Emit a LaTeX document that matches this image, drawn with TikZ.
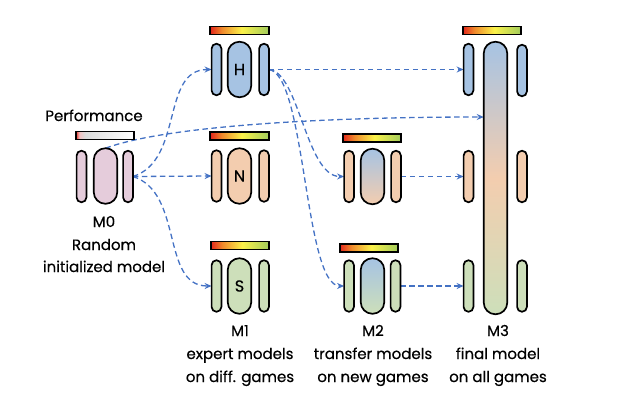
\documentclass[tikz,border=0pt]{standalone}
\usepackage{fontspec}
\setmainfont{Poppins}[FakeBold=0.5]
\usetikzlibrary{arrows.meta}
\definecolor{pblue}{HTML}{A6C3E3}
\definecolor{porange}{HTML}{F3CDAF}
\definecolor{pgreen}{HTML}{CDDFBA}
\definecolor{ppink}{HTML}{E5CCDB}
\definecolor{cblue}{HTML}{4472C4}
\definecolor{barred}{HTML}{E3261C}
\definecolor{barorange}{HTML}{F08A2C}
\definecolor{baryellow}{HTML}{FBF24A}
\definecolor{bargreen}{HTML}{A2CC5C}
\definecolor{barpale}{HTML}{F2C2C2}
\definecolor{bargray}{HTML}{DCDCDC}
\pgfdeclarehorizontalshading{perfbar}{100bp}{color(0bp)=(barred); color(25bp)=(barred); color(35bp)=(barorange); color(52bp)=(baryellow); color(75bp)=(bargreen); color(100bp)=(bargreen)}
\pgfdeclarehorizontalshading{perfzero}{100bp}{color(0bp)=(barred); color(25bp)=(barred); color(28bp)=(barpale); color(33bp)=(bargray); color(75bp)=(white); color(100bp)=(white)}
\pgfdeclarelayer{bg}
\pgfsetlayers{bg,main}
\newcommand{\lblfont}{\fontsize{15}{18}\selectfont}
\begin{document}
\begin{tikzpicture}[x=1pt,y=-1pt,
  conn/.style={draw=cblue, line width=1.3pt, dash pattern=on 5.5pt off 3.5pt, -{Stealth[length=7pt,width=6pt]}},
  sp/.style={draw=black, line width=1.7pt, rounded corners=4.8pt, minimum width=9.8pt, minimum height=51.5pt, inner sep=0pt, outer sep=0pt},
  bp/.style={draw=black, line width=1.7pt, rounded corners=11.6pt, minimum width=23.5pt, minimum height=55.5pt, inner sep=0pt, outer sep=0pt, font=\fontsize{16}{18}\selectfont},
  bar/.style={draw=black, line width=1.8pt, minimum width=58.5pt, minimum height=8pt, inner sep=0pt, outer sep=0pt, shade, shading=perfbar},
  lbl/.style={font=\lblfont, anchor=base, inner sep=0pt},
]
\useasboundingbox (0,0) rectangle (640,400);
% ---------- M0 ----------
\node[bar, shading=perfzero] (b0) at (105,135.5) {};
\node[sp, fill=ppink] (m0l) at (81.5,176.5) {};
\node[bp, fill=ppink] (m0m) at (105.5,176) {};
\node[sp, fill=ppink] (m0r) at (128,176.5) {};
\node[lbl] (tperf) at (94,121) {Performance};
\node[lbl] (t0a) at (104,227) {M0};
\node[lbl] (t0b) at (104,250) {Random};
\node[lbl] (t0c) at (104,272) {initialized model};
% ---------- M1 ----------
\node[bar] (b1h) at (239.5,30.5) {};
\node[sp, fill=pblue] (hl) at (216.5,69.5) {};
\node[bp, fill=pblue] (hm) at (239.5,69.5) {H};
\node[sp, fill=pblue] (hr) at (264,69.5) {};
\node[bar] (b1n) at (239.5,136) {};
\node[sp, fill=porange] (nl) at (216.5,176) {};
\node[bp, fill=porange] (nm) at (239.5,176) {N};
\node[sp, fill=porange] (nr) at (264,176) {};
\node[bar] (b1s) at (240,245.5) {};
\node[sp, fill=pgreen] (sl) at (216.5,286) {};
\node[bp, fill=pgreen] (sm) at (239.5,286) {S};
\node[sp, fill=pgreen] (sr) at (264,286) {};
\node[lbl] (t1a) at (240,336) {M1};
\node[lbl] (t1b) at (240,359) {expert models};
\node[lbl] (t1c) at (240,382) {on diff. games};
% ---------- M2 ----------
\node[bar] (b2n) at (372,138) {};
\node[sp, fill=porange] (m2nl) at (349,176.5) {};
\node[bp, top color=pblue, bottom color=porange] (m2nm) at (372.5,176.5) {};
\node[sp, fill=porange] (m2nr) at (396,176.5) {};
\node[bar] (b2s) at (369,248) {};
\node[sp, fill=pgreen] (m2sl) at (349,286) {};
\node[bp, top color=pblue, bottom color=pgreen] (m2sm) at (372.5,286) {};
\node[sp, fill=pgreen] (m2sr) at (395.5,286) {};
\node[lbl] (t2a) at (373,336) {M2};
\node[lbl] (t2b) at (373,359) {transfer models};
\node[lbl] (t2c) at (373,382) {on new games};
% ---------- M3 ----------
\node[bar] (b3) at (492,30.5) {};
\node[bp, minimum height=272.5pt, top color=pblue, bottom color=pgreen, middle color=porange] (m3m) at (495.5,178) {};
\node[sp, fill=pblue] (m3hl) at (468.5,69.5) {};
\node[sp, fill=pblue] (m3hr) at (522,70.5) {};
\node[sp, fill=porange] (m3nl) at (468.5,176.5) {};
\node[sp, fill=porange] (m3nr) at (522,176.5) {};
\node[sp, fill=pgreen] (m3sl) at (468.5,286) {};
\node[sp, fill=pgreen] (m3sr) at (522,286) {};
\node[lbl] (t3a) at (498,336) {M3};
\node[lbl] (t3b) at (498,359) {final model};
\node[lbl] (t3c) at (498,382) {on all games};
% ---------- connectors ----------
\begin{pgfonlayer}{bg}
\draw[conn] (m0r.east) .. controls +(51,-16) and +(-51,0) .. (hl.west);
\draw[conn] (m0r.east) -- (nl.west);
\draw[conn] (m0r.east) .. controls +(51,16) and +(-51,0) .. (sl.west);
\draw[conn] (m0m.north) .. controls +(53,-20) and +(-183,0) .. (m3m.west |- 0,117);
\draw[conn] (hr.east) -- (m3hl.west);
\draw[conn] (hr.east) .. controls +(30,2) and +(-38,0) .. (m2nl.west);
\draw[conn] (hr.east) .. controls +(37,5) and +(-40,0) .. (m2sl.west);
\draw[conn] (m2nr.east) -- (m3nl.west);
\draw[conn] (m2sr.east) -- (m3sl.west);
\end{pgfonlayer}
\end{tikzpicture}
\end{document}
